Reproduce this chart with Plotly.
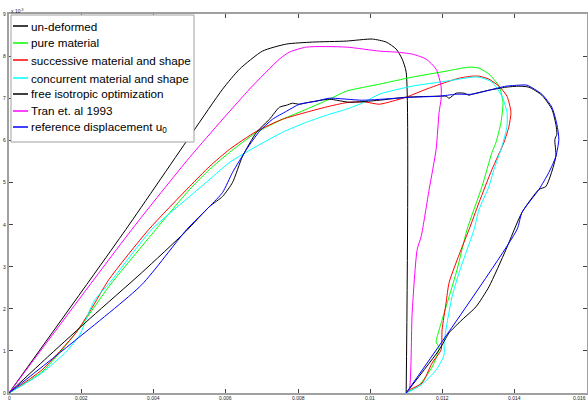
import plotly.graph_objects as go

# All values in units of 1e-3 (x: displacement, y: load x 10^-3)
undeformed_x = [0, 3.232, 5.083, 5.912, 6.381, 7.017, 7.680, 8.398, 9.337, 10.055, 10.442, 10.718, 10.884, 10.994, 10.994]
undeformed_y = [0, 3.881, 6.190, 7.214, 7.690, 8.119, 8.286, 8.333, 8.357, 8.405, 8.333, 8.167, 7.929, 7.619, 0]

pure_x = [0, 0.912, 1.851, 2.762, 4.061, 5.0, 5.552, 6.105, 6.851, 7.569, 8.232, 8.867, 9.337, 10.249, 11.160,
          12.099, 12.735, 13.011, 13.287, 13.564, 13.674, 13.619, 13.481, 13.370, 13.094, 12.680, 12.403, 12.182,
          11.989, 11.851, 11.823, 11.906, 11.713, 11.354, 10.994]
pure_y = [0, 0.5, 1.429, 2.524, 3.881, 4.833, 5.310, 5.714, 6.190, 6.5, 6.738, 6.976, 7.167, 7.333, 7.5,
          7.643, 7.738, 7.714, 7.571, 7.286, 6.905, 6.429, 5.952, 5.714, 4.905, 3.881, 2.929, 2.286,
          1.738, 1.333, 1.214, 1.071, 0.619, 0.190, 0]

succ_x = [0, 0.912, 1.851, 2.265, 2.762, 3.867, 5.0, 5.552, 6.105, 6.851, 7.569, 8.232, 8.867, 9.420, 9.890,
          10.249, 10.608, 10.994, 11.547, 12.099, 12.459, 12.818, 13.011, 13.287, 13.564, 13.785, 13.895, 13.840,
          13.702, 13.370, 13.011, 12.735, 12.514, 12.182, 12.099, 11.989, 11.961, 11.713, 11.436, 11.077, 10.994]
succ_y = [0, 0.548, 1.429, 1.976, 2.690, 3.881, 4.905, 5.381, 5.786, 6.214, 6.5, 6.667, 6.810, 6.905, 6.905,
          6.857, 6.929, 7.024, 7.214, 7.381, 7.476, 7.524, 7.524, 7.452, 7.286, 7.048, 6.667, 6.333,
          5.952, 5.310, 4.524, 3.881, 3.405, 2.619, 2.143, 1.5, 1.024, 0.714, 0.238, 0.071, 0]

conc_x = [0, 0.912, 1.575, 1.961, 2.182, 2.376, 2.790, 3.950, 5.0, 5.552, 6.105, 6.851, 7.569, 8.232, 8.867,
          9.337, 9.834, 10.249, 11.160, 12.099, 12.818, 13.011, 13.370, 13.646, 13.785, 13.785, 13.646, 13.425,
          13.287, 13.011, 12.873, 12.680, 12.459, 12.265, 12.127, 12.044, 12.044, 11.823, 11.409, 10.994]
conc_y = [0, 0.476, 0.976, 1.381, 1.857, 2.214, 2.619, 3.881, 4.667, 5.071, 5.476, 5.857, 6.190, 6.429, 6.619,
          6.738, 6.905, 7.095, 7.286, 7.405, 7.5, 7.5, 7.381, 7.048, 6.667, 6.333, 5.857, 5.310,
          4.905, 4.357, 3.881, 3.405, 2.857, 2.286, 1.667, 1.190, 0.905, 0.548, 0.190, 0]

free_x = [0, 1.133, 2.265, 3.674, 4.890, 5.552, 5.912, 6.188, 6.464, 6.851, 7.210, 7.486, 7.680, 7.845, 8.039,
          8.315, 8.867, 9.420, 10.249, 10.994, 11.906, 12.099, 12.182, 12.376, 12.597, 12.735, 12.818, 13.287,
          13.757, 14.116, 14.392, 14.751, 15.028, 15.138, 15.166, 15.110, 15.138, 14.862, 14.669, 14.199, 13.757,
          13.287, 12.928, 12.541, 12.182, 12.099, 11.906, 10.994]
free_y = [0, 0.905, 1.786, 2.857, 3.833, 4.429, 4.667, 5.0, 5.619, 6.190, 6.5, 6.786, 6.833, 6.881, 6.857,
          6.905, 6.976, 6.905, 6.952, 7.024, 7.048, 7.048, 7.0, 7.119, 7.119, 7.071, 7.095, 7.190,
          7.262, 7.286, 7.262, 7.071, 6.738, 6.381, 6.143, 6.024, 5.619, 4.905, 4.833, 4.286, 3.405,
          2.524, 2.048, 1.738, 1.429, 1.310, 1.024, 0]

tran_x = [0, 3.398, 5.0, 6.657, 7.486, 7.762, 8.232, 9.337, 10.249, 10.718, 11.160, 11.547, 11.823, 11.961,
          11.961, 11.906, 11.823, 11.630, 11.409, 11.298, 11.160, 11.077, 10.994]
tran_y = [0, 3.881, 5.595, 7.214, 7.929, 8.095, 8.214, 8.214, 8.119, 8.095, 8.048, 7.929, 7.690, 7.286,
          6.976, 6.667, 5.786, 4.833, 3.714, 3.405, 1.905, 0.071, 0]

ref_x = [0, 1.851, 3.674, 4.917, 5.552, 5.912, 6.188, 6.575, 6.934, 7.293, 7.680, 8.039, 8.508, 8.867, 9.779,
         10.718, 11.160, 11.906, 12.376, 12.818, 13.287, 13.757, 14.116, 14.337, 14.751, 15.028, 15.166, 15.221,
         15.138, 14.945, 14.669, 14.199, 14.061, 10.994]
ref_y = [0, 1.262, 2.571, 3.881, 4.429, 4.762, 5.238, 5.786, 6.214, 6.5, 6.690, 6.857, 6.929, 7.0, 6.952,
         7.0, 7.024, 7.048, 7.095, 7.095, 7.190, 7.286, 7.310, 7.310, 7.095, 6.786, 6.381, 6.024,
         5.619, 5.238, 4.833, 4.286, 3.881, 0]

x_tick_vals = [0, 2, 4, 6, 8, 10, 12, 14, 16]
x_tick_text = ["0", "0.002", "0.004", "0.006", "0.008", "0.01", "0.012", "0.014", "0.016"]
y_tick_vals = [0, 1, 2, 3, 4, 5, 6, 7, 8, 9]
y_tick_text = ["0", "1", "2", "3", "4", "5", "6", "7", "8", "9"]

series_names = ["un-deformed", "pure material", "successive material and shape",
                "concurrent material and shape", "free isotropic optimization",
                "Tran et. al 1993", "reference displacement u<sub>0</sub>"]
series_x = [undeformed_x, pure_x, succ_x, conc_x, free_x, tran_x, ref_x]
series_y = [undeformed_y, pure_y, succ_y, conc_y, free_y, tran_y, ref_y]
series_colors = ["#000000", "#00ff00", "#ff0000", "#00ffff", "#000000", "#ff00ff", "#0000ff"]

FONT = "Liberation Sans, Arial, sans-serif"

fig = go.Figure()
for name, xs, ys, col in zip(series_names, series_x, series_y, series_colors):
    fig.add_trace(go.Scatter(x=xs, y=ys, mode="lines", name=name, showlegend=False,
                             line=dict(color=col, width=1, shape="spline", smoothing=0.6)))

# ---- legend box drawn as an overlay (MATLAB style: short samples, tight spacing)
W, H = 588, 403
ML, MR, MT, MB = 9, 1, 14, 10
PW, PH = W - ML - MR, H - MT - MB


def px(xp):
    return (xp - ML) / PW


def py(yp):
    return (H - MB - yp) / PH


shapes = [dict(type="rect", xref="paper", yref="paper", layer="above",
               x0=px(11), x1=px(194), y0=py(142), y1=py(15),
               line=dict(color="#a0a0a0", width=1), fillcolor="white")]
annotations = []
row_y = [26, 43, 60, 78, 94, 111, 127]
for name, col, ry in zip(series_names, series_colors, row_y):
    shapes.append(dict(type="line", xref="paper", yref="paper", layer="above",
                       x0=px(13), x1=px(28), y0=py(ry), y1=py(ry),
                       line=dict(color=col, width=1.5)))
    annotations.append(dict(text=name, xref="paper", yref="paper", x=px(29), y=py(ry),
                            xanchor="left", yanchor="middle", showarrow=False,
                            font=dict(family=FONT, size=11.7, color="#000000")))

# tick labels (small, tight to the axes as in the original)
for v, t in zip(x_tick_vals, x_tick_text):
    annotations.append(dict(text=t, xref="x", yref="paper", x=v, y=0,
                            xanchor="right" if v == 16 else "center",
                            yanchor="middle", yshift=-4.5, showarrow=False, borderpad=0,
                            font=dict(family=FONT, size=5, color="#222222")))
for v, t in zip(y_tick_vals, y_tick_text):
    annotations.append(dict(text=t, xref="paper", yref="y", x=0, y=v, xanchor="right",
                            yanchor="middle", xshift=-2, showarrow=False, borderpad=0,
                            font=dict(family=FONT, size=5, color="#222222")))

annotations.append(dict(text="x 10<sup>-3</sup>", xref="paper", yref="paper", x=0.0, y=1.0,
                        xanchor="left", yanchor="bottom", showarrow=False, yshift=-2,
                        font=dict(family=FONT, size=5, color="#222222")))

axis_common = dict(showgrid=False, zeroline=False, showline=True, linecolor="#a0a0a0", linewidth=2,
                   mirror="ticks", ticks="inside", ticklen=4, tickwidth=1, tickcolor="#444444",
                   showticklabels=False, automargin=False)

fig.update_layout(
    width=W, height=H,
    margin=dict(l=ML, r=MR, t=MT, b=MB),
    paper_bgcolor="white", plot_bgcolor="white",
    showlegend=False,
    hovermode=False,
    xaxis=dict(range=[0, 16], tickvals=x_tick_vals, **axis_common),
    yaxis=dict(range=[0, 9], tickvals=y_tick_vals, **axis_common),
    shapes=shapes,
    annotations=annotations,
)

fig.write_html("out.html", config={"displayModeBar": False, "staticPlot": True},
               post_script="document.body.style.margin='0';document.body.style.overflow='hidden';")
